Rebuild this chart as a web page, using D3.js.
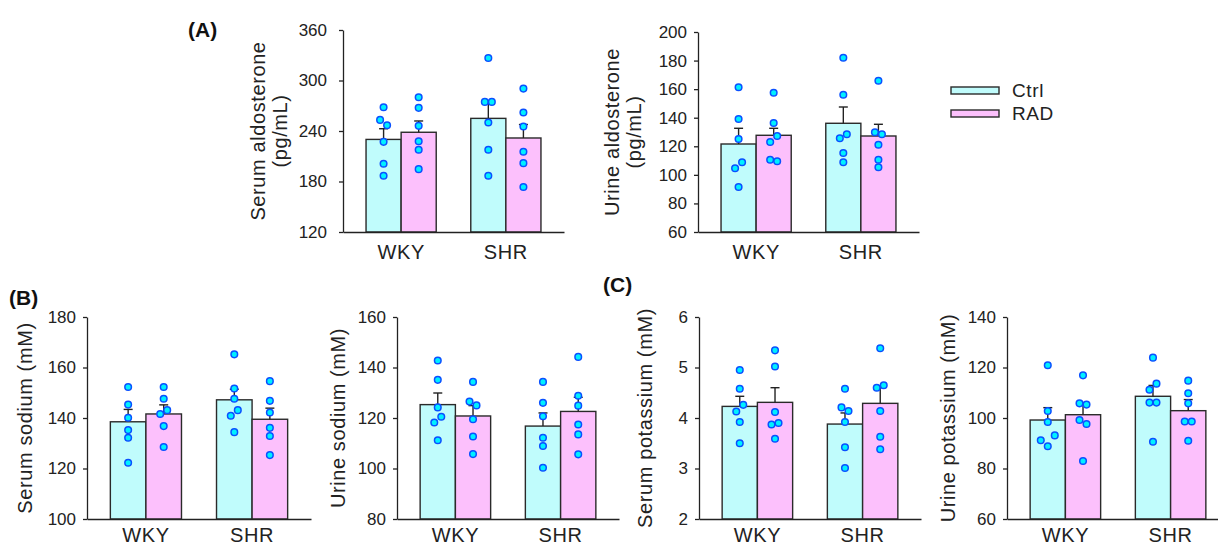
<!DOCTYPE html>
<html>
<head>
<meta charset="utf-8">
<script src="https://cdn.jsdelivr.net/npm/d3@7"></script>
<style>
  body { margin: 0; background: #fff; }
  svg { font-family: 'Liberation Sans', Arial, sans-serif; }
</style>
</head>
<body>
<svg id="chart" width="1218" height="547"></svg>
<script>
const strains = ['WKY', 'SHR'];
const treatments = ['Ctrl', 'RAD'];

// every panel lists its bars as: WKY Ctrl, WKY RAD, SHR Ctrl, SHR RAD
const serumAldoMean = [230, 238.5, 255, 231.7];
const serumAldoSem = [12.7, 13.4, 19.8, 16];
const serumAldoPoints = [
    [268.3, 253.2, 246.9, 227.1, 201.1, 186.8],
    [280.1, 267.5, 246.1, 227.9, 217.7, 194.7],
    [326.8, 274.6, 274.6, 250.1, 217.7, 186.8],
    [290.4, 262, 245.3, 215.3, 201.8, 173.4],
];
const serumAldoTicks = [120, 180, 240, 300, 360];

const urineAldoMean = [121.6, 127.7, 136.1, 127.2];
const urineAldoSem = [11, 4.9, 11.4, 8.2];
const urineAldoPoints = [
    [161.3, 139.1, 125.1, 104.6, 108.8, 91.5],
    [157.5, 136.3, 123, 127.2, 110.6, 109.5],
    [182, 156.1, 125.6, 128.4, 115.3, 108.8],
    [165.9, 129.8, 128.4, 121.1, 110.6, 105.3],
];
const urineAldoTicks = [60, 80, 100, 120, 140, 160, 180, 200];

const serumNaMean = [138.5, 141.6, 147.2, 139.5];
const serumNaSem = [4.9, 3.6, 4.2, 4.4];
const serumNaPoints = [
    [152.3, 145.3, 140.1, 135.2, 132.2, 122.3],
    [152.3, 147.6, 141.6, 143.1, 136.8, 128.5],
    [165.2, 151.7, 147.6, 140.9, 143.1, 134.4],
    [154.6, 146.8, 142.2, 136.1, 132.9, 125.3],
];
const serumNaTicks = [100, 120, 140, 160, 180];

const urineNaMean = [125.3, 120.8, 116.8, 122.6];
const urineNaSem = [4.6, 4.1, 5.2, 5.6];
const urineNaPoints = [
    [142.8, 135.1, 124.2, 118.2, 120.5, 111.2],
    [134.3, 126.5, 125, 119.5, 112.7, 105.7],
    [134.3, 126, 120.7, 112.2, 108.9, 100.3],
    [144.2, 128.8, 124.9, 117.4, 113.5, 105.6],
];
const urineNaTicks = [80, 100, 120, 140, 160];

const serumKMean = [4.23, 4.31, 3.88, 4.29];
const serumKSem = [0.2, 0.29, 0.22, 0.31];
const serumKPoints = [
    [4.95, 4.58, 4.13, 4.26, 3.92, 3.5],
    [5.34, 5.02, 4.12, 3.87, 3.9, 3.59],
    [4.58, 4.21, 4.14, 3.92, 3.42, 3.01],
    [5.38, 4.6, 4.65, 4.14, 3.63, 3.38],
];
const serumKTicks = [2, 3, 4, 5, 6];

const urineKMean = [99.2, 101.3, 108.6, 102.9];
const urineKSem = [4.9, 4.6, 4.3, 4.4];
const urineKPoints = [
    [120.9, 102.8, 98.4, 91.2, 88.8, 93.1],
    [116.9, 105.8, 105.3, 99.2, 97.6, 83],
    [123.9, 111.2, 113.6, 106.1, 106.1, 90.6],
    [114.8, 109.8, 105.8, 98.6, 98.6, 91],
];
const urineKTicks = [60, 80, 100, 120, 140];

const fills = {Ctrl: '#c0fcfc', RAD: '#fcc0fc'};
const ink = '#222';

const panels = [
    {mean: serumAldoMean, sem: serumAldoSem, points: serumAldoPoints, ticks: serumAldoTicks,
        title: ['Serum aldosterone', '(pg/mL)'], left: 343, top: 30, bottom: 232, width: 221, titleX: 258, tickPad: 12, catPad: 13},
    {mean: urineAldoMean, sem: urineAldoSem, points: urineAldoPoints, ticks: urineAldoTicks,
        title: ['Urine aldosterone', '(pg/mL)'], left: 698, top: 32, bottom: 232, width: 221, titleX: 612, tickPad: 7, catPad: 13},
    {mean: serumNaMean, sem: serumNaSem, points: serumNaPoints, ticks: serumNaTicks,
        title: ['Serum sodium (mM)'], left: 87, top: 317, bottom: 519, width: 224, titleX: 25, tickPad: 7, catPad: 9},
    {mean: urineNaMean, sem: urineNaSem, points: urineNaPoints, ticks: urineNaTicks,
        title: ['Urine sodium (mM)'], left: 397, top: 317, bottom: 519, width: 222, titleX: 338, tickPad: 7, catPad: 9},
    {mean: serumKMean, sem: serumKSem, points: serumKPoints, ticks: serumKTicks,
        title: ['Serum potassium (mM)'], left: 699, top: 317, bottom: 519, width: 222, titleX: 645, tickPad: 7, catPad: 9},
    {mean: urineKMean, sem: urineKSem, points: urineKPoints, ticks: urineKTicks,
        title: ['Urine potassium (mM)'], left: 1007, top: 317, bottom: 519, width: 222, titleX: 948, tickPad: 7, catPad: 9},
];

const svg = d3.select('#chart');

// dots closer than one dot apart get spread sideways, in the order they are listed
function spread(values, y, dx) {
    const order = d3.range(values.length).sort((a, b) => values[b] - values[a] || a - b);
    const offs = values.map(() => 0);
    let cluster = [order[0]];
    const flush = () => {
        cluster.sort((a, b) => a - b)
            .forEach((idx, k) => offs[idx] = (k - (cluster.length - 1) / 2) * dx);
    };
    for (let k = 1; k < order.length; k++) {
        if (Math.abs(y(values[order[k]]) - y(values[order[k - 1]])) < 7) cluster.push(order[k]);
        else { flush(); cluster = [order[k]]; }
    }
    flush();
    return offs;
}

function drawPanel(p) {
    const g = svg.append('g');
    const x = d3.scaleBand().domain(strains).range([p.left, p.left + p.width])
        .paddingInner(0.33).paddingOuter(0.22);
    const xt = d3.scaleBand().domain(treatments).range([0, x.bandwidth()]);
    const y = d3.scaleLinear().domain(d3.extent(p.ticks)).range([p.bottom, p.top]);

    const bars = strains.flatMap((s, i) => treatments.map((t, j) => ({
        strain: s, treat: t,
        mean: p.mean[i * 2 + j], sem: p.sem[i * 2 + j], points: p.points[i * 2 + j],
        cx: x(s) + xt(t) + xt.bandwidth() / 2,
    })));

    g.selectAll('.bar')
        .data(bars)
        .enter()
        .append('rect')
        .attr('x', d => x(d.strain) + xt(d.treat))
        .attr('width', xt.bandwidth())
        .attr('y', d => y(d.mean))
        .attr('height', d => y(p.ticks[0]) - y(d.mean))
        .attr('fill', d => fills[d.treat])
        .attr('stroke', '#2a2a2a')
        .attr('stroke-width', 1.4);

    // error bars, upper half only
    const err = g.selectAll('.err').data(bars).enter().append('g');
    err.append('line')
        .attr('x1', d => d.cx).attr('x2', d => d.cx)
        .attr('y1', d => y(d.mean)).attr('y2', d => y(d.mean + d.sem))
        .attr('stroke', ink).attr('stroke-width', 1.4);
    err.append('line')
        .attr('x1', d => d.cx - 4.5).attr('x2', d => d.cx + 4.5)
        .attr('y1', d => y(d.mean + d.sem)).attr('y2', d => y(d.mean + d.sem))
        .attr('stroke', ink).attr('stroke-width', 1.4);

    const yAxis = g.append('g')
        .attr('transform', `translate(${p.left},0)`)
        .call(d3.axisLeft(y).tickValues(p.ticks).tickFormat(d3.format('d'))
            .tickSize(4).tickSizeOuter(0).tickPadding(p.tickPad));
    const xAxis = g.append('g')
        .attr('transform', `translate(0,${p.bottom})`)
        .call(d3.axisBottom(x).tickSize(0).tickSizeOuter(0).tickPadding(p.catPad));
    [yAxis, xAxis].forEach(a => {
        a.selectAll('path, line').attr('stroke', ink).attr('stroke-width', 1.3);
        a.selectAll('text').attr('fill', ink);
        a.attr('font-family', null);
    });
    yAxis.selectAll('text').attr('font-size', 17);
    xAxis.selectAll('text').attr('font-size', 20).attr('letter-spacing', 0.6);

    bars.forEach(b => {
        const offs = spread(b.points, y, 7);
        g.selectAll(null)
            .data(b.points)
            .enter()
            .append('circle')
            .attr('cx', (d, i) => b.cx + offs[i])
            .attr('cy', d => y(d))
            .attr('r', 3.3)
            .attr('fill', '#00f0ff')
            .attr('stroke', '#0a50ff')
            .attr('stroke-width', 1.5);
    });

    p.title.forEach((line, k) => {
        g.append('text')
            .attr('transform', `translate(${p.titleX + k * 22},${(p.top + p.bottom) / 2}) rotate(-90)`)
            .attr('text-anchor', 'middle')
            .attr('dy', '0.35em')
            .attr('font-size', 20)
            .attr('letter-spacing', 0.6)
            .attr('fill', ink)
            .text(line);
    });
}

panels.forEach(drawPanel);

// legend
const legend = svg.append('g').attr('transform', 'translate(951,87)');
treatments.forEach((t, i) => {
    legend.append('rect')
        .attr('x', 0).attr('y', i * 23)
        .attr('width', 48).attr('height', 7)
        .attr('fill', fills[t]).attr('stroke', '#2a2a2a').attr('stroke-width', 1.4);
    legend.append('text')
        .attr('x', 61).attr('y', i * 23 + 10)
        .attr('font-size', 19).attr('letter-spacing', 0.6).attr('fill', ink)
        .text(t);
});

// panel letters
[['(A)', 188, 37], ['(B)', 9, 305], ['(C)', 603, 292]].forEach(([t, lx, ly]) => {
    svg.append('text')
        .attr('x', lx).attr('y', ly)
        .attr('font-size', 21).attr('font-weight', 'bold').attr('fill', '#111')
        .text(t);
});
</script>
</body>
</html>
